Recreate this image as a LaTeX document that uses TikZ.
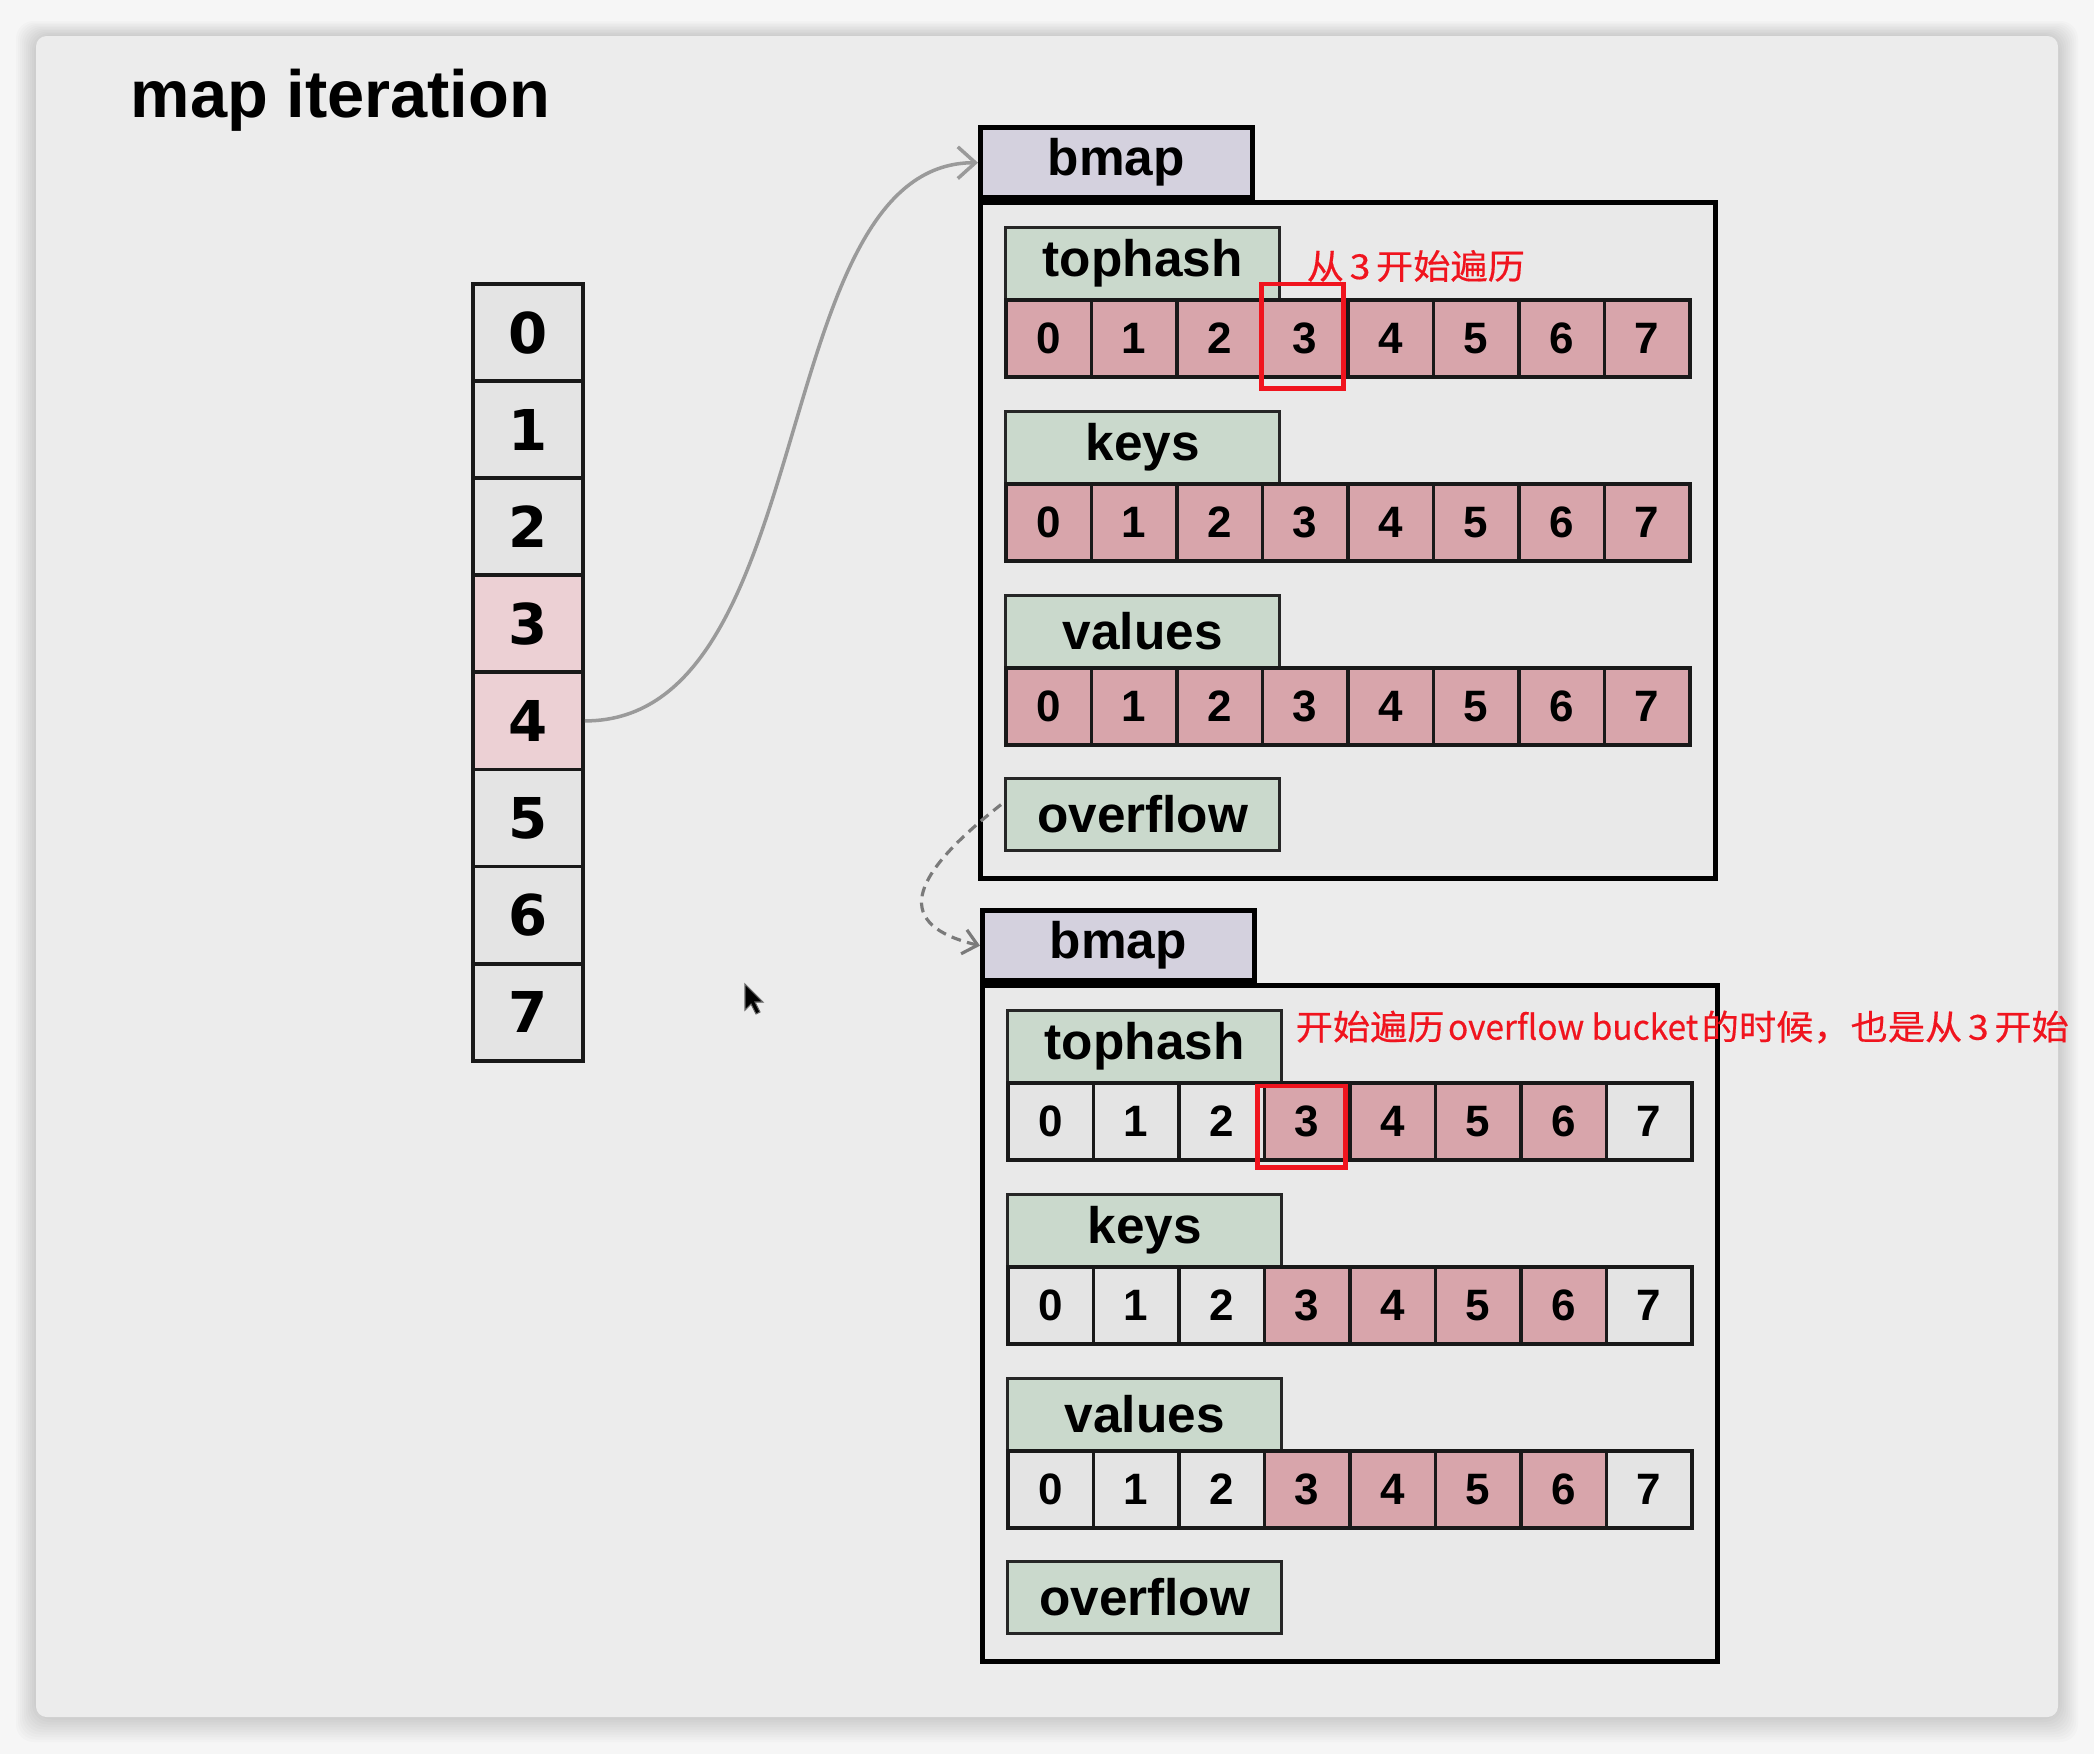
\documentclass[tikz,border=0pt]{standalone}
\usepackage{fontspec}
\setmainfont{Liberation Sans}
\newfontfamily\cjk[FakeStretch=1.08,FakeBold=0.4]{Noto Sans CJK SC}
\newfontfamily\cjklat[FakeStretch=0.97,FakeBold=0.4]{Noto Sans CJK SC}
\newfontfamily\digitfont{DejaVu Sans}
\usetikzlibrary{arrows.meta,calc}
\definecolor{pagebg}{HTML}{F6F6F6}
\definecolor{cardbg}{HTML}{ECECEC}
\definecolor{boxbg}{HTML}{E9E9E9}
\definecolor{tabfill}{HTML}{D4D1DE}
\definecolor{lblfill}{HTML}{CAD9CC}
\definecolor{pinkfill}{HTML}{D8A5AB}
\definecolor{lightpink}{HTML}{ECD0D4}
\definecolor{cellgray}{HTML}{E4E4E4}
\definecolor{linkgray}{HTML}{9A9A9A}
\definecolor{dashgray}{HTML}{7A7A7A}
\definecolor{markred}{HTML}{F0141E}
\tikzset{
  cellbox/.style={draw=black!90, line width=1pt, minimum width=0.855cm, minimum height=0.77cm,
    inner sep=0pt, font=\fontsize{12.5}{14}\selectfont\bfseries},
  colcell/.style={draw=black!90, line width=1.1pt, minimum width=1.10cm, minimum height=0.971cm,
    inner sep=0pt, font=\digitfont\fontsize{16}{18}\selectfont\bfseries},
  lblbox/.style={draw=black!85, line width=0.9pt, fill=lblfill, minimum width=2.74cm,
    minimum height=0.72cm, inner sep=0pt, font=\fontsize{14.6}{16}\selectfont\bfseries},
  tabbox/.style={draw=black, line width=1.3pt, fill=tabfill, minimum width=2.72cm,
    minimum height=0.70cm, inner sep=0pt, font=\fontsize{14.6}{16}\selectfont\bfseries},
  bucketbox/.style={draw=black, line width=1.4pt, fill=boxbg, inner sep=0pt,
    minimum width=7.35cm, minimum height=6.76cm},
  redmark/.style={draw=markred, line width=1.4pt},
  redtext/.style={text=markred, font=\cjk\fontsize{9.8}{12}\selectfont, inner sep=0pt, anchor=west},
  link/.style={draw=linkgray, line width=1pt, -{Straight Barb[length=5pt,width=9pt]}},
  ovlink/.style={draw=dashgray, line width=0.9pt, dash pattern=on 2.8pt off 1.8pt,
    -{Straight Barb[length=4pt,width=7pt]}}
}
\newcommand\drawbucket[5]{%
  \node[bucketbox, anchor=north west] (#1box) at (#2,#3) {};
  \node[tabbox, anchor=south west] (#1tab) at (#2,#3) {bmap};
  \foreach \lbl/\nm/\dy in {tophash/th/26, keys/ky/210, values/vl/394}{
    \node[lblbox, anchor=north west] (#1\nm) at (#2+26,#3+\dy) {\lbl};
    \foreach \i in {0,...,7}{
      \ifnum\i<#4 \def\cf{cellgray}\else\ifnum\i>#5 \def\cf{cellgray}\else\def\cf{pinkfill}\fi\fi
      \node[cellbox, fill=\cf, anchor=north west] (#1\nm\i) at (#2+26+85.5*\i, #3+\dy+72) {\i};
    }
  }
  \node[lblbox, anchor=north west] (#1of) at (#2+26,#3+577) {overflow};
}
\begin{document}
\begin{tikzpicture}[x=0.01cm, y=-0.01cm]
  \useasboundingbox (0,0) rectangle (2094,1754);
  \fill[pagebg] (0,0) rectangle (2094,1754);
  % card shadow
  \foreach \k in {1,...,10}
    \fill[black, opacity=0.014, rounded corners=5pt] (36-2*\k, 36-1.5*\k) rectangle (2058+2*\k, 1717+2.5*\k);
  \fill[cardbg, rounded corners=3pt] (36,36) rectangle (2058,1717);

  \node[anchor=base west, inner sep=0pt, font=\fontsize{19}{22}\selectfont\bfseries] (title) at (130,117) {map iteration};

  % left bucket array
  \foreach \i in {0,...,7}{
    \ifnum\i=3 \def\cf{lightpink}\else\ifnum\i=4 \def\cf{lightpink}\else\def\cf{cellgray}\fi\fi
    \node[colcell, fill=\cf, anchor=north west] (c\i) at (471, 282+97.1*\i) {\i};
  }

  % buckets
  \drawbucket{ba}{978}{200}{0}{7}
  \drawbucket{bb}{980}{983}{3}{6}

  % red highlights
  \draw[redmark] ($(bath3.north west)+(1,-14)$) rectangle ($(bath3.south east)+(-6,10)$);
  \draw[redmark] ($(bbth3.north west)+(-5,5)$) rectangle ($(bbth3.south east)+(-6,6)$);
  \node[redtext] (note1) at (1306,266) {从\,3\,开始遍历};
  \node[redtext] (note2) at (1295,1027) {开始遍历{\cjklat\kern0.1em overflow bucket\kern0.1em}的时候，也是从\,3\,开始};

  % connectors
  \coordinate (ofstart) at ($(baof.west)+(-3,-10)$);
  \draw[link] (c4.east) .. controls +(237,0) and +(-213,0) .. (batab.west);
  \draw[ovlink] (ofstart) .. controls (905,880) and (895,925) .. (bbtab.west);

  % mouse cursor
  \fill[black, draw=black!60, line width=0.3pt] (745,984) -- (745,1010) -- (751,1004) -- (756,1014)
    -- (760,1012) -- (755,1002) -- (763,1002) -- cycle;
\end{tikzpicture}
\end{document}
